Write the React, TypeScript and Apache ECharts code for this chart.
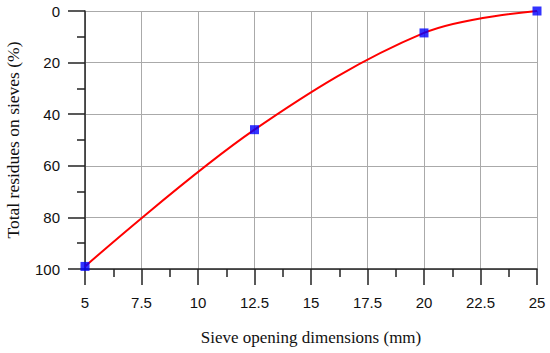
import React, { useEffect, useRef } from "react";
import * as echarts from "echarts";

const sieveSizes = [5, 12.5, 20, 25];
const residues = [99, 46, 8.5, 0];
const xTitle = "Sieve opening dimensions (mm)";
const yTitle = "Total residues on sieves (%)";

export default function App() {
  const ref = useRef<HTMLDivElement>(null);
  useEffect(() => {
    const chart = echarts.init(ref.current!, null, { renderer: "svg" });
    const data = sieveSizes.map((x, i) => [x, residues[i]]);
    chart.setOption({
      animation: false,
      backgroundColor: "#ffffff",
      grid: { left: 85, right: 13, top: 11, bottom: 84, containLabel: false, outerBoundsMode: "none" },
      xAxis: {
        type: "value",
        position: "bottom",
        min: 5,
        max: 25,
        interval: 2.5,
        name: xTitle,
        nameLocation: "middle",
        nameGap: 60,
        nameTextStyle: { fontFamily: "Liberation Serif", fontSize: 17, color: "#111" },
        axisLine: { show: true, onZero: false, lineStyle: { color: "#222", width: 1.5 } },
        axisTick: { show: true, inside: false, length: 16, lineStyle: { color: "#222", width: 1.5 } },
        minorTick: { show: true, splitNumber: 2, length: 8, lineStyle: { color: "#222", width: 1.5 } },
        axisLabel: { margin: 26, fontFamily: "Liberation Sans", fontSize: 15, color: "#111" },
        splitLine: { show: true, lineStyle: { color: "#aaa", width: 1 } },
      },
      yAxis: {
        type: "value",
        position: "left",
        inverse: true,
        min: 0,
        max: 100,
        interval: 20,
        name: yTitle,
        nameLocation: "middle",
        nameGap: 63,
        nameTextStyle: { fontFamily: "Liberation Serif", fontSize: 17.5, color: "#111" },
        axisLine: { show: true, onZero: false, lineStyle: { color: "#222", width: 1.5 } },
        axisTick: { show: true, inside: false, length: 17, lineStyle: { color: "#222", width: 1.5 } },
        minorTick: { show: true, splitNumber: 2, length: 8, lineStyle: { color: "#222", width: 1.5 } },
        axisLabel: { margin: 25, fontFamily: "Liberation Sans", fontSize: 15, color: "#111" },
        splitLine: { show: true, lineStyle: { color: "#aaa", width: 1 } },
      },
      series: [
        {
          type: "line",
          data,
          smooth: 0.35,
          showSymbol: false,
          lineStyle: { color: "#ff0000", width: 2 },
          z: 2,
        },
        {
          type: "scatter",
          data,
          symbol: "rect",
          symbolSize: 9,
          itemStyle: { color: "#0000ff" },
          z: 3,
        },
      ],
    });
    return () => chart.dispose();
  }, []);
  return <div ref={ref} style={{ width: 550, height: 353, position: "absolute", left: 0, top: 0 }} />;
}
